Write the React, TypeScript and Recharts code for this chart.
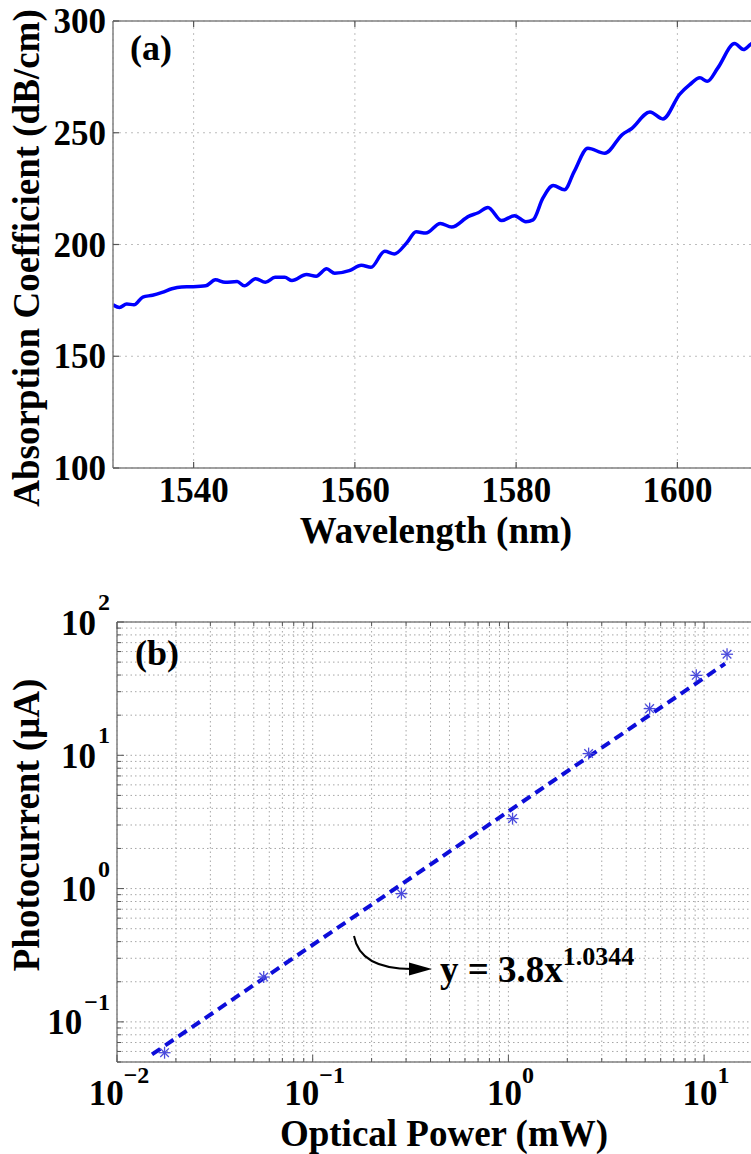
import React from "react";
import {
  LineChart,
  Line,
  ComposedChart,
  Scatter,
  XAxis,
  YAxis,
  CartesianGrid,
  Customized,
} from "recharts";

const FONT = "'Liberation Serif', 'Times New Roman', Times, serif";
const AXIS = "#808080";
const TICK = "#555555";

// ---- (a) absorption spectrum ----
const wavelengths = [
  1530.0, 1530.8, 1531.7, 1532.6, 1533.7, 1534.9, 1536.1, 1537.3, 1538.5, 1539.7,
  1541.5, 1542.7, 1543.9, 1545.4, 1546.3, 1547.7, 1548.9, 1550.1, 1551.3, 1552.2,
  1554.0, 1555.2, 1556.5, 1557.5, 1559.3, 1560.8, 1562.0, 1563.7, 1564.9, 1566.4,
  1567.6, 1568.8, 1570.6, 1572.0, 1574.1, 1575.3, 1576.5, 1578.2, 1579.8, 1581.2,
  1582.1, 1583.3, 1584.6, 1586.0, 1587.2, 1588.9, 1591.0, 1593.2, 1594.3, 1596.6,
  1598.2, 1600.3, 1601.5, 1602.8, 1603.7, 1605.0, 1607.1, 1608.2, 1609.1, 1610.0,
];
const absorption = [
  173.0, 171.8, 173.4, 173.0, 176.5, 177.3, 178.6, 180.2, 181.0, 181.1,
  181.5, 184.2, 183.1, 183.4, 181.5, 184.7, 183.1, 185.3, 185.3, 183.9,
  186.6, 185.8, 189.1, 187.1, 188.3, 190.7, 189.8, 197.0, 195.8, 200.6,
  205.7, 205.1, 209.4, 207.8, 212.6, 214.2, 216.6, 210.7, 212.9, 210.2,
  211.0, 220.6, 226.4, 224.5, 232.6, 243.1, 240.8, 249.3, 251.8, 259.3,
  256.2, 267.3, 271.4, 274.6, 273.0, 278.9, 289.9, 287.2, 289.6, 291.0,
];
const wavelengthTicks = [1540, 1560, 1580, 1600];
const absorptionTicks = [100, 150, 200, 250, 300];

// ---- (b) photocurrent vs optical power ----
const powerMeasured = [0.0175, 0.0562, 0.284, 1.05, 2.57, 5.27, 9.12, 13.1];
const currentMeasured = [0.0587, 0.217, 0.917, 3.35, 10.3, 22.4, 39.8, 57.3];
const fitPower = [0.0151, 12.8];
const fitCurrent = [0.057, 48.7];
const powerTicks = [
  0.01, 0.02, 0.03, 0.04, 0.05, 0.06, 0.07, 0.08, 0.09,
  0.1, 0.2, 0.3, 0.4, 0.5, 0.6, 0.7, 0.8, 0.9,
  1, 2, 3, 4, 5, 6, 7, 8, 9, 10, 20,
];
const currentTicks = [
  0.05, 0.06, 0.07, 0.08, 0.09,
  0.1, 0.2, 0.3, 0.4, 0.5, 0.6, 0.7, 0.8, 0.9,
  1, 2, 3, 4, 5, 6, 7, 8, 9,
  10, 20, 30, 40, 50, 60, 70, 80, 90, 100,
];

const absData = wavelengths.map((wl, i) => ({ wl, value: absorption[i] }));
const measuredData = powerMeasured.map((p, i) => ({ p, c: currentMeasured[i] }));
const fitData = fitPower.map((p, i) => ({ p, c: fitCurrent[i] }));

const bold = { fontFamily: FONT, fontWeight: "bold" as const, fill: "#000" };

const isMajor = (v: number) => {
  const e = Math.log10(v);
  return Math.abs(e - Math.round(e)) < 1e-6;
};
const expText = (v: number) => String(Math.round(Math.log10(v))).replace("-", "\u2212");

// tick renderers (inward tick marks, MATLAB style)
const BottomTickA = ({ x, y, payload }: any) => (
  <g>
    <line x1={x} x2={x} y1={y} y2={y - 6} stroke={TICK} strokeWidth={1.2} />
    <text x={x} y={y + 34} textAnchor="middle" fontSize={35} {...bold}>
      {payload.value}
    </text>
  </g>
);

const LeftTickA = ({ x, y, payload }: any) => (
  <g>
    <line x1={x} x2={x + 6} y1={y} y2={y} stroke={TICK} strokeWidth={1.2} />
    <text x={x - 7} y={y + 12} textAnchor="end" fontSize={35} {...bold}>
      {payload.value}
    </text>
  </g>
);

const TopTickA = ({ x, y }: any) => (
  <line x1={x} x2={x} y1={y} y2={y + 6} stroke={TICK} strokeWidth={1.2} />
);

const LogBottomTick = ({ x, y, payload }: any) => {
  const major = isMajor(payload.value);
  return (
    <g>
      <line x1={x} x2={x} y1={y} y2={y - (major ? 7 : 4)} stroke={TICK} strokeWidth={1} />
      {major && (
        <text x={x + 2} y={y + 43} textAnchor="middle" {...bold}>
          <tspan fontSize={35}>10</tspan>
          <tspan fontSize={24} dy={-22}>
            {expText(payload.value)}
          </tspan>
        </text>
      )}
    </g>
  );
};

const LogTopTick = ({ x, y, payload }: any) => (
  <line x1={x} x2={x} y1={y} y2={y + (isMajor(payload.value) ? 7 : 4)} stroke={TICK} strokeWidth={1} />
);

const LogLeftTick = ({ x, y, payload }: any) => {
  const major = isMajor(payload.value);
  return (
    <g>
      <line x1={x} x2={x + (major ? 7 : 4)} y1={y} y2={y} stroke={TICK} strokeWidth={1} />
      {major && (
        <text x={x - 7} y={y + 12.5} textAnchor="end" {...bold}>
          <tspan fontSize={35}>10</tspan>
          <tspan fontSize={24} dx={2} dy={-24.5}>
            {expText(payload.value)}
          </tspan>
        </text>
      )}
    </g>
  );
};

const Asterisk = ({ cx, cy }: any) => {
  const r = 6;
  const d = r * 0.72;
  return (
    <g stroke="#4b4bdc" strokeWidth={1.3}>
      <line x1={cx - r} y1={cy} x2={cx + r} y2={cy} />
      <line x1={cx} y1={cy - r} x2={cx} y2={cy + r} />
      <line x1={cx - d} y1={cy - d} x2={cx + d} y2={cy + d} />
      <line x1={cx - d} y1={cy + d} x2={cx + d} y2={cy - d} />
    </g>
  );
};

const TextsA = () => (
  <g>
    <text x={130} y={60} fontSize={36} {...bold}>(a)</text>
    <text x={436} y={543} textAnchor="middle" fontSize={37} {...bold}>
      Wavelength (nm)
    </text>
    <text x={39} y={258} transform="rotate(-90 39 258)" textAnchor="middle" fontSize={37} {...bold}>
      Absorption Coefficient (dB/cm)
    </text>
  </g>
);

const TextsB = () => (
  <g>
    <text x={135} y={105} fontSize={36} {...bold}>(b)</text>
    <path d="M354,376 Q360,409 412,409" fill="none" stroke="#000" strokeWidth={2} />
    <polygon points="432,409 409,402.5 409,415.5" fill="#000" />
    <text x={440} y={422} fontSize={37} {...bold}>
      y = 3.8x
      <tspan fontSize={26} dy={-17}>1.0344</tspan>
    </text>
    <text x={444} y={586} textAnchor="middle" fontSize={37} {...bold}>
      Optical Power (mW)
    </text>
    <text x={38.5} y={265} transform="rotate(-90 38.5 265)" textAnchor="middle" fontSize={37} {...bold}>
      Photocurrent (μA)
    </text>
  </g>
);

export default function App() {
  return (
    <div
      style={{
        position: "absolute",
        left: 0,
        top: 0,
        width: 751,
        height: 1154,
        overflow: "hidden",
        background: "#fff",
      }}
    >
      <LineChart
        width={790}
        height={560}
        data={absData}
        margin={{ top: 20, right: 32, bottom: 32, left: 0 }}
      >
        <CartesianGrid stroke="#bdbdbd" strokeDasharray="2 4" />
        <XAxis
          dataKey="wl"
          type="number"
          domain={[1530, 1610]}
          ticks={wavelengthTicks}
          allowDataOverflow
          interval={0}
          height={60}
          tickSize={0}
          tickMargin={0}
          tickLine={false}
          axisLine={{ stroke: AXIS, strokeWidth: 1.5 }}
          tick={BottomTickA}
        />
        <XAxis
          xAxisId="top"
          orientation="top"
          dataKey="wl"
          type="number"
          domain={[1530, 1610]}
          ticks={wavelengthTicks}
          allowDataOverflow
          interval={0}
          height={1}
          tickSize={0}
          tickMargin={0}
          tickLine={false}
          axisLine={{ stroke: AXIS, strokeWidth: 1.5 }}
          tick={TopTickA}
        />
        <YAxis
          type="number"
          domain={[100, 300]}
          ticks={absorptionTicks}
          allowDataOverflow
          interval={0}
          width={113}
          tickSize={0}
          tickMargin={0}
          tickLine={false}
          axisLine={{ stroke: AXIS, strokeWidth: 1.5 }}
          tick={LeftTickA}
        />
        <Line
          type="monotone"
          dataKey="value"
          stroke="#0000ff"
          strokeWidth={3.5}
          dot={false}
          isAnimationActive={false}
        />
        <Customized component={TextsA} />
      </LineChart>

      <ComposedChart
        width={790}
        height={594}
        margin={{ top: 61, right: 27, bottom: 32, left: 0 }}
      >
        <CartesianGrid stroke="#a6a6a6" strokeDasharray="1.5 3" />
        <XAxis
          dataKey="p"
          type="number"
          scale="log"
          domain={[0.01, 20]}
          ticks={powerTicks}
          allowDataOverflow
          interval={0}
          height={60}
          tickSize={0}
          tickMargin={0}
          tickLine={false}
          axisLine={{ stroke: AXIS, strokeWidth: 1.5 }}
          tick={LogBottomTick}
        />
        <XAxis
          xAxisId="top"
          orientation="top"
          dataKey="p"
          type="number"
          scale="log"
          domain={[0.01, 20]}
          ticks={powerTicks}
          allowDataOverflow
          interval={0}
          height={1}
          tickSize={0}
          tickMargin={0}
          tickLine={false}
          axisLine={{ stroke: AXIS, strokeWidth: 1.5 }}
          tick={LogTopTick}
        />
        <YAxis
          dataKey="c"
          type="number"
          scale="log"
          domain={[0.05, 100]}
          ticks={currentTicks}
          allowDataOverflow
          interval={0}
          width={117}
          tickSize={0}
          tickMargin={0}
          tickLine={false}
          axisLine={{ stroke: AXIS, strokeWidth: 1.5 }}
          tick={LogLeftTick}
        />
        <Line
          data={fitData}
          dataKey="c"
          stroke="#0d0dd9"
          strokeWidth={4}
          strokeDasharray="10 6"
          dot={false}
          isAnimationActive={false}
        />
        <Scatter
          data={measuredData}
          dataKey="c"
          shape={Asterisk}
          isAnimationActive={false}
        />
        <Customized component={TextsB} />
      </ComposedChart>
    </div>
  );
}
